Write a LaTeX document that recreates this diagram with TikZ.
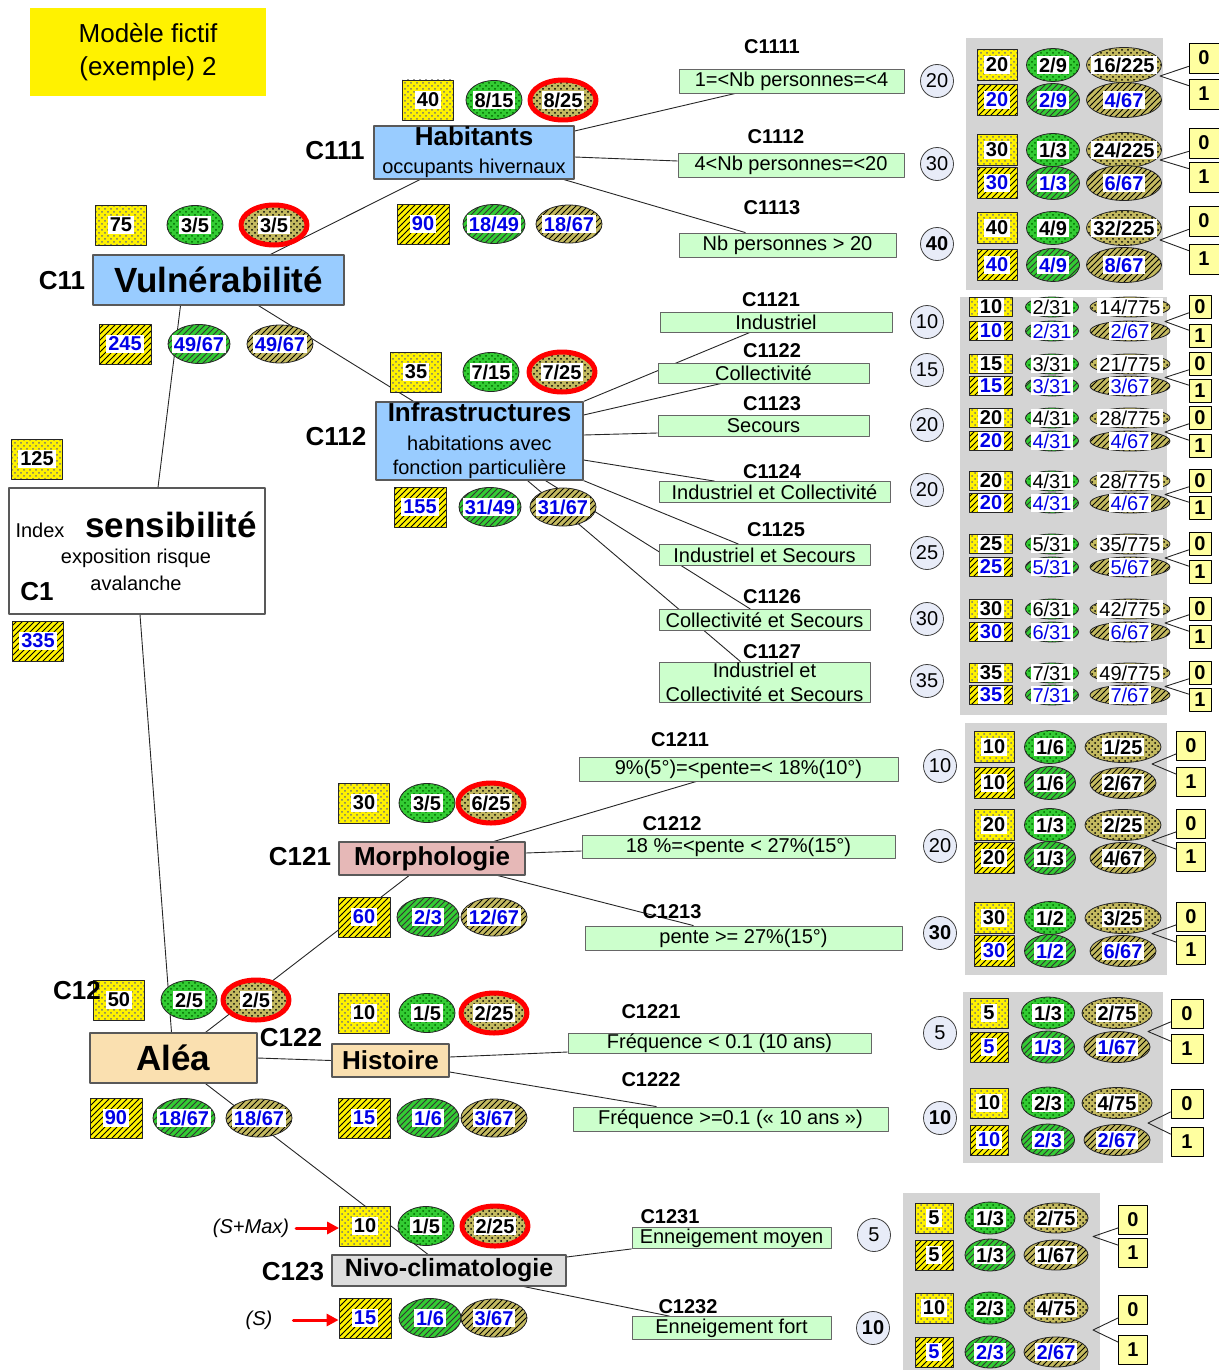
\documentclass[tikz,border=0pt]{standalone}
\usepackage{fontspec}
\setmainfont{Liberation Sans}
\usetikzlibrary{shapes.geometric, patterns, arrows.meta}

\definecolor{bleu}{RGB}{153,204,255}
\definecolor{vertclair}{RGB}{204,255,204}
\definecolor{vert}{RGB}{51,204,51}
\definecolor{kaki}{RGB}{196,186,96}
\definecolor{lavande}{RGB}{232,236,248}
\definecolor{gris}{RGB}{212,212,212}
\definecolor{sable}{RGB}{250,224,176}
\definecolor{rose}{RGB}{230,184,183}
\definecolor{grisclair}{RGB}{221,221,221}
\definecolor{jaunepale}{RGB}{255,255,160}
\definecolor{bleutxt}{RGB}{0,0,230}

\pgfdeclarelayer{fond}
\pgfdeclarelayer{liens}
\pgfsetlayers{fond,liens,main}

\begin{document}
\begin{tikzpicture}[x=0.5pt, y=-0.5pt, line join=round, line cap=round,
	every node/.style={font=\fontsize{10}{12}\selectfont},
	titre/.style={fill=yellow, minimum width=118pt, minimum height=44pt, inner sep=0pt, align=center, font=\fontsize{13}{16.5}\selectfont},
	crit/.style={rectangle, draw=black!65, line width=0.6pt, inner sep=0pt, align=center},
	code/.style={font=\fontsize{13}{15}\selectfont\bfseries},
	souscode/.style={font=\fontsize{10}{12}\selectfont\bfseries},
	feuille/.style={rectangle, draw=black!60, fill=vertclair, inner sep=0pt, align=center, font=\fontsize{10}{12}\selectfont},
	poids/.style={circle, draw=black!75, fill=lavande, minimum size=16.5pt, inner sep=0pt},
	val/.style={inner sep=0pt, draw=black!85, line width=0.4pt},
	carre/.style={val, rectangle, preaction={fill=yellow}, pattern=crosshatch dots, pattern color=black!55},
	carreh/.style={val, rectangle, preaction={fill=yellow}, pattern=north east lines, pattern color=black},
	ov/.style={val, ellipse, preaction={fill=vert}, pattern=crosshatch dots, pattern color=green!40!black},
	ovh/.style={val, ellipse, preaction={fill=vert}, pattern=north east lines, pattern color=black!80},
	ok/.style={val, ellipse, preaction={fill=kaki}, pattern=crosshatch dots, pattern color=black},
	okh/.style={val, ellipse, preaction={fill=kaki}, pattern=north east lines, pattern color=black},
	rouge/.style={ok, draw=red, line width=2.5pt},
	vtxt/.style={fill=white, inner sep=1pt, font=\fontsize{10}{12}\selectfont\bfseries},
	btxt/.style={vtxt, text=bleutxt},
	vfin/.style={vtxt, font=\fontsize{10}{12}\selectfont},
	bfin/.style={vfin, text=bleutxt},
	bit/.style={rectangle, draw=black, fill=jaunepale, inner sep=0pt, font=\fontsize{10}{12}\selectfont\bfseries},
	lien/.style={draw=black!85, line width=0.45pt},
	fleche/.style={draw=red, line width=1.5pt, -{Triangle[length=6pt, width=6pt]}}]

	\useasboundingbox (0,0) rectangle (1219,1370);

	% Panneaux gris
	\begin{pgfonlayer}{fond}
		\fill[gris] (966,38) rectangle (1163,290);
		\fill[gris] (960,297) rectangle (1167,715);
		\fill[gris] (965,723) rectangle (1167,975);
		\fill[gris] (963,992) rectangle (1163,1163);
		\fill[gris] (903,1193) rectangle (1100,1370);
	\end{pgfonlayer}

	% Titre
	\node[titre] (titre) at (148,52) {Modèle fictif\\(exemple) 2};

	% Indice C1
	\node[crit, fill=white, minimum width=128pt, minimum height=63pt] (c1) at (137,551) {};
	\node (c1i) at (40,530) {Index};
	\node[font=\fontsize{17.5}{20}\selectfont\bfseries] (c1s) at (171,525) {sensibilité};
	\node (c1e) at (136,558) {exposition risque};
	\node (c1a) at (136,583) {avalanche};
	\node[code] (c1c) at (37,592) {C1};
	\node[carre, minimum width=25.5pt, minimum height=20pt] (c1-a) at (37,459) {};
	\node[vtxt] (c1-at) at (c1-a) {125};
	\node[carreh, minimum width=25.5pt, minimum height=20pt] (c1-d) at (38,641) {};
	\node[btxt] (c1-dt) at (c1-d) {335};

	% Critères
	\node[crit, fill=bleu, minimum width=125.5pt, minimum height=25pt, font=\fontsize{17.5}{20}\selectfont\bfseries] (vul) at (218.5,280) {Vulnérabilité};
	\node[crit, fill=bleu, minimum width=100pt, minimum height=26.5pt] (hab) at (474,152.5) {{\fontsize{13}{14}\selectfont\bfseries Habitants}\\[2pt]occupants hivernaux};
	\node[crit, fill=bleu, minimum width=103.5pt, minimum height=39pt] (inf) at (479.5,441) {{\fontsize{13}{14}\selectfont\bfseries Infrastructures}\\[2.5pt]habitations avec\\fonction particulière};
	\node[crit, fill=sable, minimum width=83.5pt, minimum height=25pt, font=\fontsize{17.5}{20}\selectfont\bfseries] (alea) at (173.5,1058) {Aléa};
	\node[crit, fill=rose, minimum width=93pt, minimum height=16.5pt, font=\fontsize{13}{15}\selectfont\bfseries] (morph) at (432,858.5) {Morphologie};
	\node[crit, fill=sable, minimum width=58.5pt, minimum height=16.5pt, font=\fontsize{13}{15}\selectfont\bfseries] (hist) at (390.5,1060.5) {Histoire};
	\node[crit, fill=grisclair, minimum width=117pt, minimum height=15.5pt, font=\fontsize{12.5}{15}\selectfont\bfseries] (nivo) at (449,1270.5) {Nivo-climatologie};

	% Valeurs au-dessus des critères
	\foreach \n/\y/\xa/\xb/\xc/\ta/\tb/\tc in {c11/225/121/195/274/75/{3/5}/{3/5}, c111/100/428/494/563/40/{8/15}/{8/25}, c112/372/416/491/562/35/{7/15}/{7/25}, c12/1000/119/189/256/50/{2/5}/{2/5}, c121/803/364/427/491/30/{3/5}/{6/25}, c122/1013/364/427/494/10/{1/5}/{2/25}, c123/1226/365/426/495/10/{1/5}/{2/25}} {
		\node[carre, minimum width=25.5pt, minimum height=20pt] (\n-a) at (\xa,\y) {};
		\node[ov, minimum width=28pt, minimum height=19.5pt] (\n-b) at (\xb,\y) {};
		\node[rouge, minimum width=33pt, minimum height=20pt] (\n-c) at (\xc,\y) {};
		\node[vtxt] (\n-at) at (\n-a) {\ta};
		\node[vtxt] (\n-bt) at (\n-b) {\tb};
		\node[vtxt] (\n-ct) at (\n-c) {\tc};
	}

	% Valeurs au-dessous des critères
	\foreach \n/\y/\xa/\xb/\xc/\ta/\tb/\tc in {c11/344/125/199/280/245/{49/67}/{49/67}, c111/224/423/494/569/90/{18/49}/{18/67}, c112/507/420/490/563/155/{31/49}/{31/67}, c12/1118/116/184/259/90/{18/67}/{18/67}, c121/917/364/428/494/60/{2/3}/{12/67}, c122/1118/364/428/494/15/{1/6}/{3/67}, c123/1318/365/430/494/15/{1/6}/{3/67}} {
		\node[carreh, minimum width=26pt, minimum height=20pt] (\n-d) at (\xa,\y) {};
		\node[ovh, minimum width=31pt, minimum height=19.5pt] (\n-e) at (\xb,\y) {};
		\node[okh, minimum width=33pt, minimum height=19pt] (\n-f) at (\xc,\y) {};
		\node[btxt] (\n-dt) at (\n-d) {\ta};
		\node[btxt] (\n-et) at (\n-e) {\tb};
		\node[btxt] (\n-ft) at (\n-f) {\tc};
	}

	% Codes des critères
	\foreach \t/\x/\y in {C11/62/281, C111/335/151, C112/336/437, C12/77/991, C121/300/857, C122/291/1038, C123/293/1272}
		\node[code] (l\t) at (\x,\y) {\t};

	% Flèches (S+Max) et (S)
	\node[font=\fontsize{10}{12}\selectfont\itshape] (smax) at (251,1228) {(S+Max)};
	\node[font=\fontsize{10}{12}\selectfont\itshape] (s) at (259,1320) {(S)};
	\draw[fleche] (smax.east) -- (smax.east -| c123-a.west);
	\draw[fleche, shorten <=7pt] (s.east) -- (s.east -| c123-d.west);

	% Codes des sous-critères
	\foreach \t/\x/\y in {C1111/772/47, C1112/776/137, C1113/772/208, C1121/771/300, C1122/772/351, C1123/772/404, C1124/772/472, C1125/776/530, C1126/772/597, C1127/772/652, C1211/680/740, C1212/672/824, C1213/672/912, C1221/651/1012, C1222/651/1080, C1231/670/1217, C1232/688/1307}
		\node[souscode] (l\t) at (\x,\y) {\t};

	% Sous-critères
	\node[feuille, minimum width=112.5pt, minimum height=12pt] (f1111) at (791.5,81) {1=<Nb personnes=<4};
	\node[feuille, minimum width=113pt, minimum height=12pt] (f1112) at (791,165) {4<Nb personnes=<20};
	\node[feuille, minimum width=108.5pt, minimum height=12pt] (f1113) at (787.5,245) {Nb personnes > 20};
	\node[feuille, minimum width=116pt, minimum height=10pt] (f1121) at (776,322) {Industriel};
	\node[feuille, minimum width=105.5pt, minimum height=10pt] (f1122) at (763.5,373) {Collectivité};
	\node[feuille, minimum width=105.5pt, minimum height=10.5pt] (f1123) at (763.5,426) {Secours};
	\node[feuille, minimum width=115.5pt, minimum height=10.5pt] (f1124) at (774.5,492) {Industriel et Collectivité};
	\node[feuille, minimum width=105.5pt, minimum height=10.5pt] (f1125) at (764.5,555) {Industriel et Secours};
	\node[feuille, minimum width=105.5pt, minimum height=10.5pt] (f1126) at (764.5,620) {Collectivité et Secours};
	\node[feuille, minimum width=105.5pt, minimum height=20pt] (f1127) at (764.5,682) {Industriel et\\Collectivité et Secours};
	\node[feuille, minimum width=159.5pt, minimum height=12pt] (f1211) at (738.5,769) {9\%(5°)=<pente=< 18\%(10°)};
	\node[feuille, minimum width=156.5pt, minimum height=11.5pt] (f1212) at (738.5,847) {18 \%=<pente < 27\%(15°)};
	\node[feuille, minimum width=158.5pt, minimum height=12pt] (f1213) at (743.5,938) {pente >= 27\%(15°)};
	\node[feuille, minimum width=151.5pt, minimum height=10pt] (f1221) at (719.5,1043) {Fréquence < 0.1 (10 ans)};
	\node[feuille, minimum width=157.5pt, minimum height=12pt] (f1222) at (730.5,1119) {Fréquence >=0.1 (« 10 ans »)};
	\node[feuille, minimum width=99.5pt, minimum height=10.5pt] (f1231) at (731.5,1238) {Enneigement moyen};
	\node[feuille, minimum width=99.5pt, minimum height=11.5pt] (f1232) at (731.5,1328) {Enneigement fort};

	% Poids
	\foreach \n/\x/\y/\t in {1111/937/81/20, 1112/937/164/30, 1113/937/244/{\textbf{40}}, 1121/927/322/10, 1122/927/370/15, 1123/927/425/20, 1124/927/490/20, 1125/927/553/25, 1126/927/619/30, 1127/927/681/35, 1211/940/766/10, 1212/940/846/20, 1213/940/933/{\textbf{30}}, 1221/940/1033/5, 1222/940/1118/{\textbf{10}}, 1231/874/1235/5, 1232/873/1328/{\textbf{10}}}
		\node[poids] (w\n) at (\x,\y) {\t};

	% Panneau C111
	\foreach \k/\ya/\yb/\ua/\ub/\uc/\wa/\wb/\wc in {1/65/100/20/{2/9}/{16/225}/20/{2/9}/{4/67}, 2/150/183/30/{1/3}/{24/225}/30/{1/3}/{6/67}, 3/228/265/40/{4/9}/{32/225}/40/{4/9}/{8/67}} {
		\node[carre, minimum width=20pt, minimum height=15.5pt] (h\k-1) at (997,\ya) {};
		\node[ov, minimum width=26.5pt, minimum height=16.5pt] (h\k-2) at (1053,\ya) {};
		\node[ok, minimum width=37.5pt, minimum height=17.5pt] (h\k-3) at (1124,\ya) {};
		\node[carreh, minimum width=20pt, minimum height=15.5pt] (h\k-4) at (997,\yb) {};
		\node[ovh, minimum width=26.5pt, minimum height=16.5pt] (h\k-5) at (1053,\yb) {};
		\node[okh, minimum width=37.5pt, minimum height=17.5pt] (h\k-6) at (1124,\yb) {};
		\node[vtxt] (h\k-1t) at (h\k-1) {\ua};
		\node[vtxt] (h\k-2t) at (h\k-2) {\ub};
		\node[vtxt] (h\k-3t) at (h\k-3) {\uc};
		\node[btxt] (h\k-4t) at (h\k-4) {\wa};
		\node[btxt] (h\k-5t) at (h\k-5) {\wb};
		\node[btxt] (h\k-6t) at (h\k-6) {\wc};
		\node[bit, minimum size=15pt] (h\k-z) at (1204,\ya-7) {0};
		\node[bit, minimum size=15pt] (h\k-u) at (1204,\yb-6) {1};
		\coordinate (h\k-f) at (1160,{(\ya+\yb)/2-6.5});
		\draw[lien] ([yshift=3.5pt]h\k-z.south west) -- (h\k-f) -- ([yshift=-3.5pt]h\k-u.north west);
	}

	% Panneau C112
	\foreach \k/\ya/\yb/\ua/\ub/\uc/\wa/\wb/\wc in {1/307/331/10/{2/31}/{14/775}/10/{2/31}/{2/67}, 2/364/386/15/{3/31}/{21/775}/15/{3/31}/{3/67}, 3/418/441/20/{4/31}/{28/775}/20/{4/31}/{4/67}, 4/481/503/20/{4/31}/{28/775}/20/{4/31}/{4/67}, 5/544/567/25/{5/31}/{35/775}/25/{5/31}/{5/67}, 6/609/632/30/{6/31}/{42/775}/30/{6/31}/{6/67}, 7/673/695/35/{7/31}/{49/775}/35/{7/31}/{7/67}} {
		\node[carre, minimum width=21.5pt, minimum height=9.5pt] (i\k-1) at (991,\ya) {};
		\node[ov, minimum width=26.5pt, minimum height=10pt] (i\k-2) at (1052,\ya) {};
		\node[ok, minimum width=40pt, minimum height=10pt] (i\k-3) at (1130,\ya) {};
		\node[carreh, minimum width=21.5pt, minimum height=9.5pt] (i\k-4) at (991,\yb) {};
		\node[ovh, minimum width=26.5pt, minimum height=10pt] (i\k-5) at (1052,\yb) {};
		\node[okh, minimum width=40pt, minimum height=10pt] (i\k-6) at (1130,\yb) {};
		\node[vtxt] (i\k-1t) at (i\k-1) {\ua};
		\node[vfin] (i\k-2t) at (i\k-2) {\ub};
		\node[vfin] (i\k-3t) at (i\k-3) {\uc};
		\node[btxt] (i\k-4t) at (i\k-4) {\wa};
		\node[bfin] (i\k-5t) at (i\k-5) {\wb};
		\node[bfin] (i\k-6t) at (i\k-6) {\wc};
		\node[bit, minimum width=11pt, minimum height=11.5pt] (i\k-z) at (1200,\ya) {0};
		\node[bit, minimum width=11pt, minimum height=11.5pt] (i\k-u) at (1200,\yb+5) {1};
		\coordinate (i\k-f) at (1165,{(\ya+\yb+5)/2});
		\draw[lien] ([yshift=3pt]i\k-z.south west) -- (i\k-f) -- ([yshift=-3pt]i\k-u.north west);
	}

	% Panneau C121
	\foreach \k/\ya/\yb/\ua/\ub/\uc/\wa/\wb/\wc/\col in {1/747/783/10/{1/6}/{1/25}/10/{1/6}/{2/67}/black, 2/825/858/20/{1/3}/{2/25}/20/{1/3}/{4/67}/black, 3/918/951/30/{1/2}/{3/25}/30/{1/2}/{6/67}/bleutxt} {
		\node[carre, minimum width=20pt, minimum height=15.5pt] (m\k-1) at (994,\ya) {};
		\node[ov, minimum width=25.5pt, minimum height=16.5pt] (m\k-2) at (1050,\ya) {};
		\node[ok, minimum width=38pt, minimum height=15.5pt] (m\k-3) at (1123,\ya) {};
		\node[carreh, minimum width=20pt, minimum height=15.5pt] (m\k-4) at (994,\yb) {};
		\node[ovh, minimum width=25.5pt, minimum height=16.5pt] (m\k-5) at (1050,\yb) {};
		\node[okh, minimum width=33pt, minimum height=15.5pt] (m\k-6) at (1123,\yb) {};
		\node[vtxt] (m\k-1t) at (m\k-1) {\ua};
		\node[vtxt] (m\k-2t) at (m\k-2) {\ub};
		\node[vtxt] (m\k-3t) at (m\k-3) {\uc};
		\node[vtxt, text=\col] (m\k-4t) at (m\k-4) {\wa};
		\node[vtxt, text=\col] (m\k-5t) at (m\k-5) {\wb};
		\node[vtxt, text=\col] (m\k-6t) at (m\k-6) {\wc};
		\node[bit, minimum size=14.5pt] (m\k-z) at (1191,\ya-1) {0};
		\node[bit, minimum size=14.5pt] (m\k-u) at (1191,\yb-1) {1};
		\coordinate (m\k-f) at (1152,{(\ya+\yb)/2-1});
		\draw[lien] ([yshift=3.5pt]m\k-z.south west) -- (m\k-f) -- ([yshift=-3.5pt]m\k-u.north west);
	}

	% Panneau C122
	\foreach \k/\ya/\yb/\ua/\ub/\uc/\wa/\wb/\wc in {1/1013/1047/5/{1/3}/{2/75}/5/{1/3}/{1/67}, 2/1103/1140/10/{2/3}/{4/75}/10/{2/3}/{2/67}} {
		\node[carre, minimum width=19pt, minimum height=15pt] (s\k-1) at (989,\ya) {};
		\node[ov, minimum width=26.5pt, minimum height=16pt] (s\k-2) at (1048,\ya) {};
		\node[ok, minimum width=35pt, minimum height=15.5pt] (s\k-3) at (1117,\ya) {};
		\node[carreh, minimum width=19pt, minimum height=15pt] (s\k-4) at (989,\yb) {};
		\node[ovh, minimum width=26.5pt, minimum height=16pt] (s\k-5) at (1048,\yb) {};
		\node[okh, minimum width=33pt, minimum height=15.5pt] (s\k-6) at (1117,\yb) {};
		\node[vtxt] (s\k-1t) at (s\k-1) {\ua};
		\node[vtxt] (s\k-2t) at (s\k-2) {\ub};
		\node[vtxt] (s\k-3t) at (s\k-3) {\uc};
		\node[btxt] (s\k-4t) at (s\k-4) {\wa};
		\node[btxt] (s\k-5t) at (s\k-5) {\wb};
		\node[btxt] (s\k-6t) at (s\k-6) {\wc};
		\node[bit, minimum width=16pt, minimum height=14.5pt] (s\k-z) at (1187,\ya+1) {0};
		\node[bit, minimum width=16pt, minimum height=14.5pt] (s\k-u) at (1187,\yb+2) {1};
		\coordinate (s\k-f) at (1148,{(\ya+\yb)/2+1.5});
		\draw[lien] ([yshift=3.5pt]s\k-z.south west) -- (s\k-f) -- ([yshift=-3.5pt]s\k-u.north west);
	}

	% Panneau C123
	\foreach \k/\ya/\yb/\ua/\ub/\uc/\wa/\wb/\wc/\col in {1/1218/1255/5/{1/3}/{2/75}/5/{1/3}/{1/67}/black, 2/1308/1352/10/{2/3}/{4/75}/5/{2/3}/{2/67}/bleutxt} {
		\node[carre, minimum width=19pt, minimum height=15pt] (n\k-1) at (934,\ya) {};
		\node[ov, minimum width=25pt, minimum height=16pt] (n\k-2) at (990,\ya) {};
		\node[ok, minimum width=32pt, minimum height=15pt] (n\k-3) at (1056,\ya) {};
		\node[carreh, minimum width=19pt, minimum height=15pt] (n\k-4) at (934,\yb) {};
		\node[ovh, minimum width=25pt, minimum height=16pt] (n\k-5) at (990,\yb) {};
		\node[okh, minimum width=32pt, minimum height=15pt] (n\k-6) at (1056,\yb) {};
		\node[vtxt] (n\k-1t) at (n\k-1) {\ua};
		\node[vtxt] (n\k-2t) at (n\k-2) {\ub};
		\node[vtxt] (n\k-3t) at (n\k-3) {\uc};
		\node[vtxt, text=\col] (n\k-4t) at (n\k-4) {\wa};
		\node[vtxt, text=\col] (n\k-5t) at (n\k-5) {\wb};
		\node[vtxt, text=\col] (n\k-6t) at (n\k-6) {\wc};
		\node[bit, minimum size=14.5pt] (n\k-z) at (1133,\ya+2) {0};
		\node[bit, minimum size=14.5pt] (n\k-u) at (1133,\yb-2) {1};
		\coordinate (n\k-f) at (1093,{(\ya+\yb)/2});
		\draw[lien] ([yshift=3.5pt]n\k-z.south west) -- (n\k-f) -- ([yshift=-3.5pt]n\k-u.north west);
	}

	% Liens de l'arbre
	\begin{pgfonlayer}{liens}
		\draw[lien] ([xshift=10.5pt]c1.north) -- ([xshift=-19pt]vul.south);
		\draw[lien] ([xshift=20pt]vul.south) -- ([xshift=-33pt]inf.north);
		\draw[lien] ([xshift=26pt]vul.north) -- ([xshift=-27pt]hab.south);
		\draw[lien] ([xshift=1.5pt]c1.south) -- ([xshift=-1pt]alea.north);
		\draw[lien] ([xshift=16pt]alea.north) -- ([xshift=-11.5pt]morph.south);
		\draw[lien] (alea.east) -- (hist.west);
		\draw[lien] ([xshift=16pt]alea.south) -- ([xshift=-10.5pt]nivo.north);
		% C111
		\draw[lien] ([yshift=10.75pt]hab.east) -- ([xshift=-28pt]f1111.south);
		\draw[lien] ([yshift=-2.25pt]hab.east) -- ([yshift=2pt]f1112.west);
		\draw[lien] ([xshift=45pt]hab.south) -- ([xshift=-21pt]f1113.north);
		% C112
		\draw[lien] (inf.north east) -- ([xshift=-13pt]f1121.south);
		\draw[lien] ([yshift=13pt]inf.east) -- ([xshift=-21pt]f1122.south);
		\draw[lien] ([yshift=3pt]inf.east) -- ([yshift=-3.5pt]f1123.west);
		\draw[lien] ([yshift=-9.5pt]inf.east) -- ([xshift=-30pt]f1124.north);
		\draw[lien] (inf.south east) -- ([xshift=-13pt]f1125.north);
		\draw[lien] ([xshift=33pt]inf.south) -- ([xshift=-7pt]f1126.north);
		\draw[lien] ([xshift=24pt]inf.south) -- ([xshift=-12pt]f1127.north);
		% C121
		\draw[lien] ([xshift=31pt]morph.north) -- ([xshift=-21pt]f1211.south);
		\draw[lien] ([yshift=2.75pt]morph.east) -- ([yshift=-2pt]f1212.west);
		\draw[lien] ([xshift=33pt]morph.south) -- ([xshift=-25pt]f1213.north);
		% C122
		\draw[lien] ([yshift=1.75pt]hist.east) -- ([yshift=-4.5pt]f1221.west);
		\draw[lien] ([yshift=-5.75pt]hist.east) -- ([xshift=-37pt]f1222.north);
		% C123
		\draw[lien] ([yshift=6.75pt]nivo.east) -- (f1231.south west);
		\draw[lien] ([xshift=37.5pt]nivo.south) -- ([xshift=-31pt]f1232.north);
	\end{pgfonlayer}
\end{tikzpicture}
\end{document}
